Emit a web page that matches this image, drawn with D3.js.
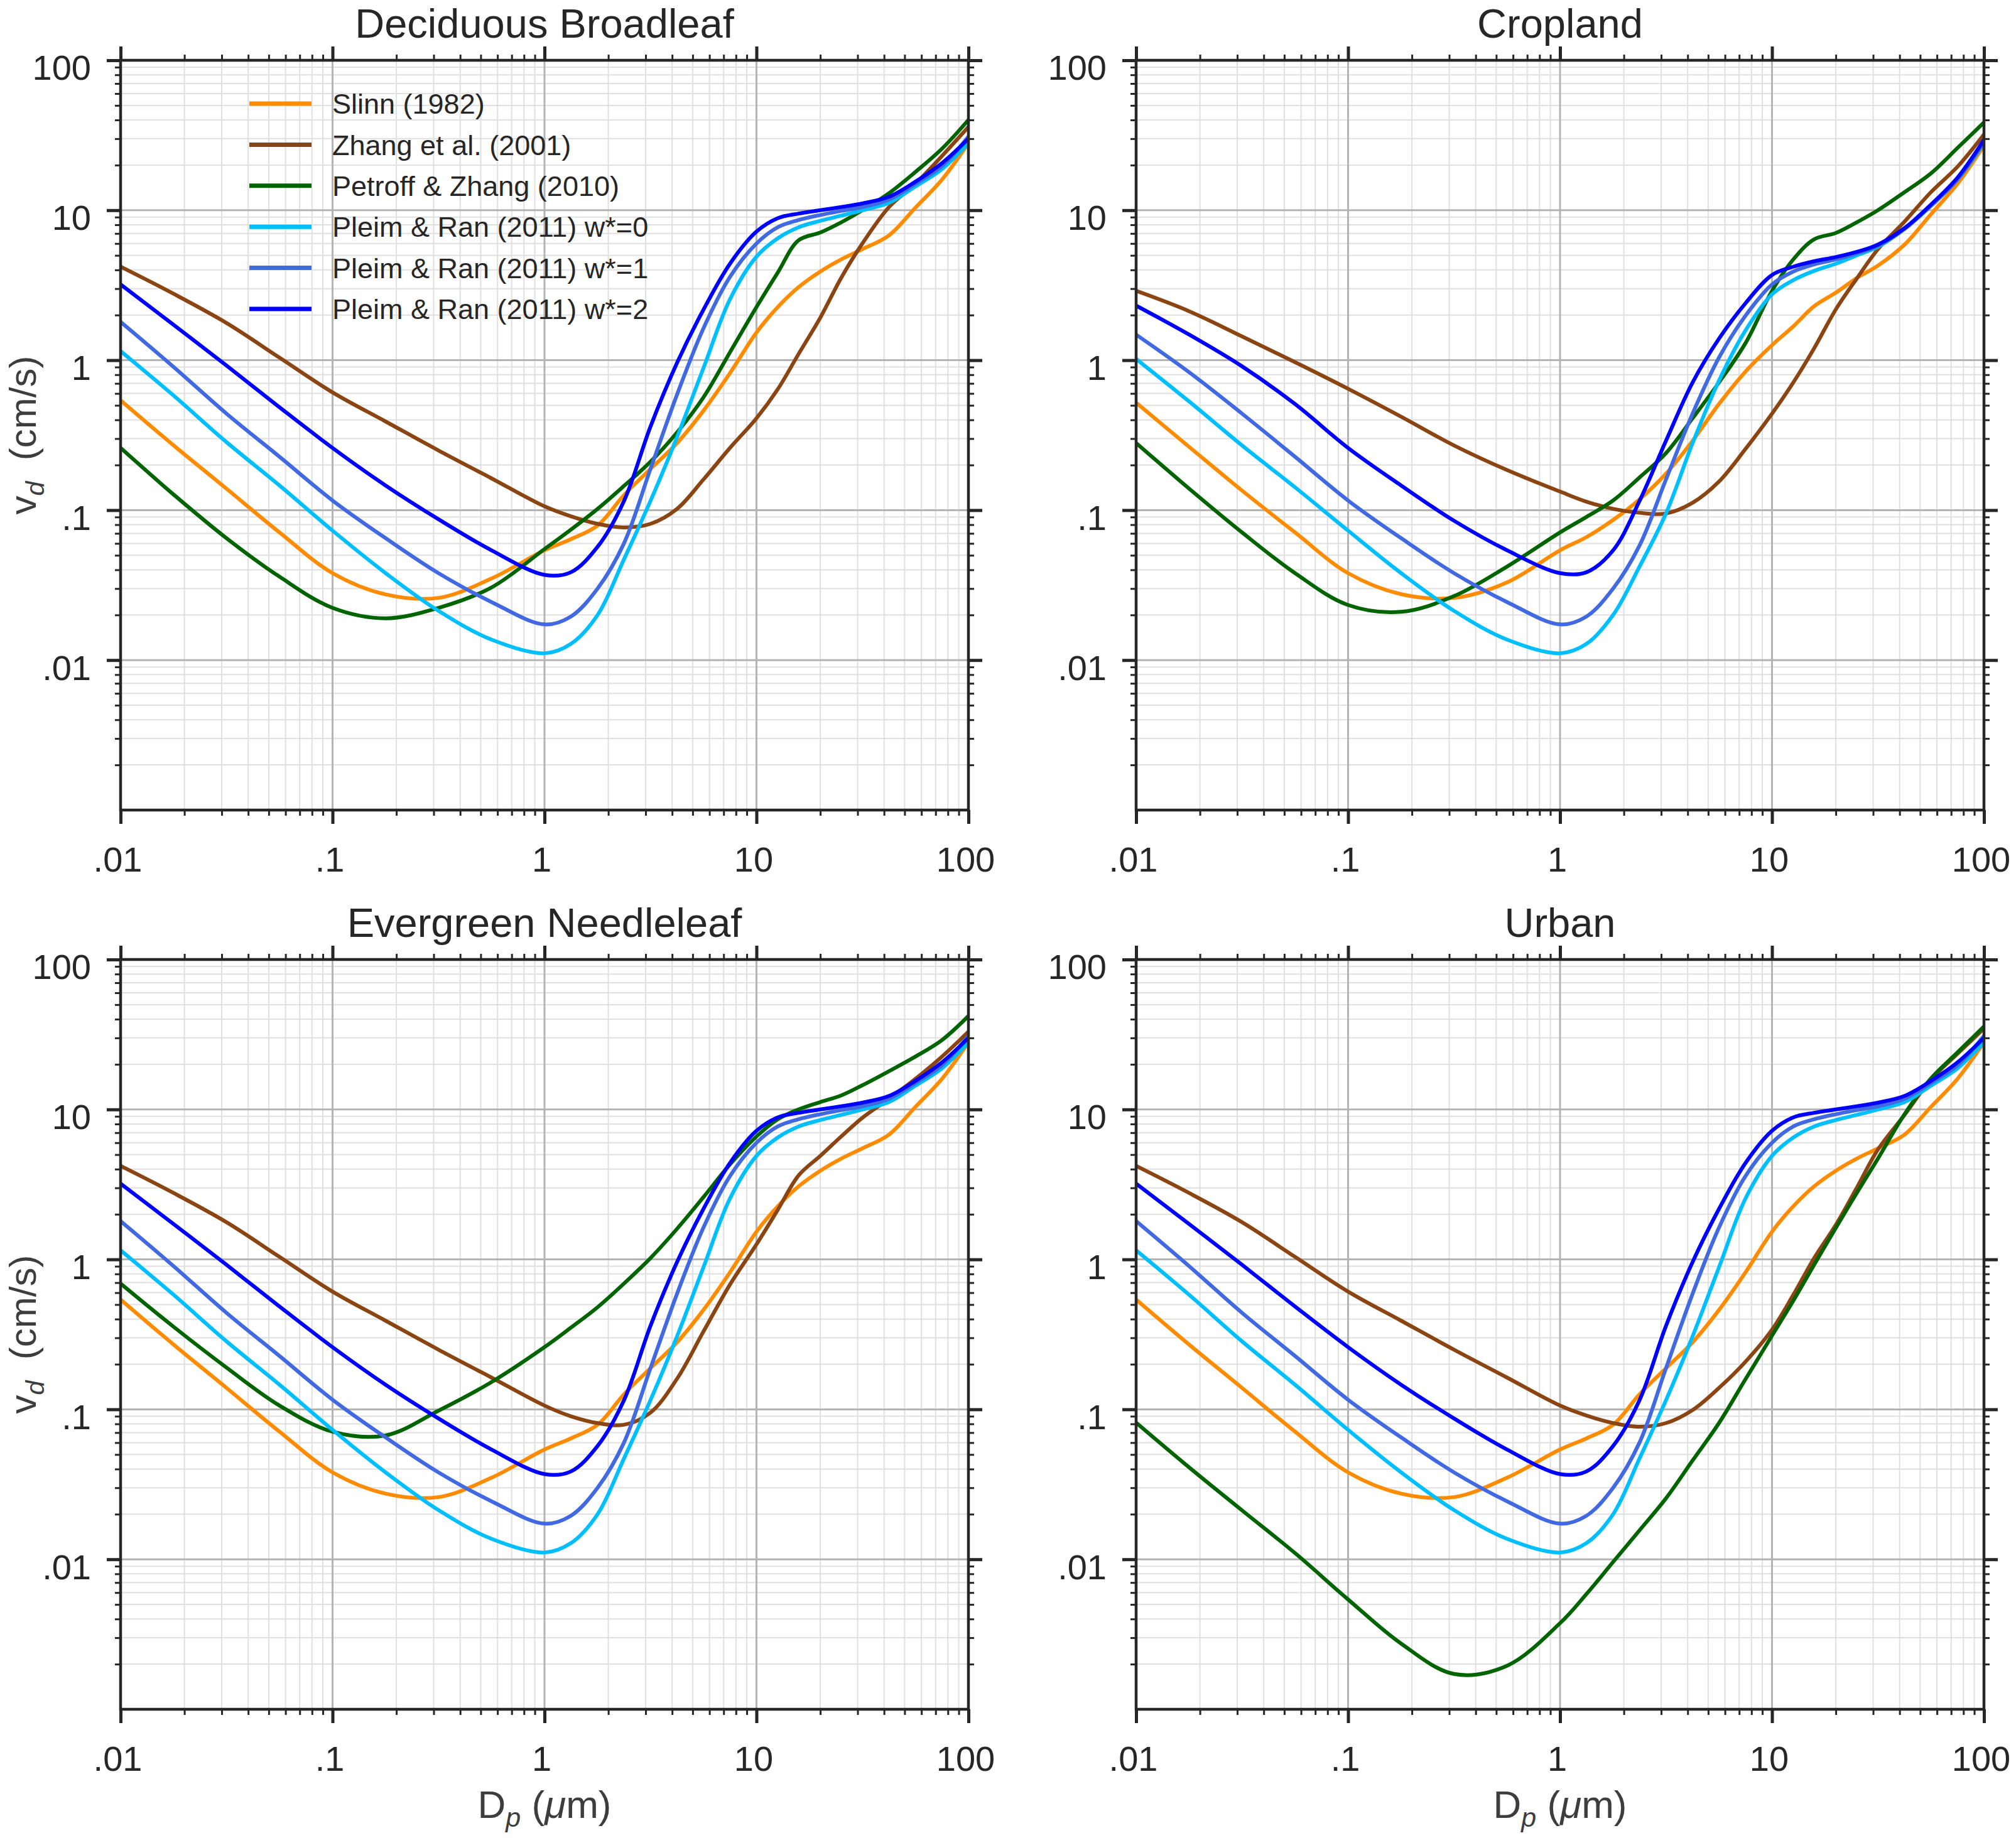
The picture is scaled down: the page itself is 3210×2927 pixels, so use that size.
<!DOCTYPE html>
<html>
<head>
<meta charset="utf-8">
<script src="https://cdn.jsdelivr.net/npm/d3@7"></script>
<style>
  body { margin: 0; background: #fff; }
</style>
</head>
<body>
<div id="chart"></div>
<script>
// particle diameter grid (um), shared by every curve
const dp = [0.01, 0.0178, 0.0316, 0.0562, 0.1, 0.178, 0.316, 0.562, 1, 1.33, 1.78, 2.37, 3.16,
            4.22, 5.62, 7.5, 10, 12.6, 15.8, 20, 25.1, 31.6, 42.2, 56.2, 75, 100];

// deposition velocity (cm/s)
const slinnDB   = [0.54, 0.27, 0.139, 0.071, 0.038, 0.0274, 0.026, 0.035, 0.054, 0.064, 0.079, 0.126, 0.188, 0.28, 0.46, 0.82, 1.53, 2.26, 3.07, 3.9, 4.7, 5.5, 6.8, 10.4, 16, 28];
const zhangDB   = [4.2, 2.77, 1.77, 1.04, 0.61, 0.39, 0.25, 0.163, 0.106, 0.091, 0.081, 0.0767, 0.081, 0.102, 0.16, 0.26, 0.41, 0.64, 1.1, 1.92, 3.54, 6.0, 10.5, 15, 23, 36];
const petroffDB = [0.26, 0.127, 0.065, 0.036, 0.0223, 0.019, 0.0223, 0.0305, 0.055, 0.074, 0.102, 0.145, 0.21, 0.33, 0.565, 1.13, 2.26, 3.84, 6.3, 7.1, 8.3, 10, 13, 18, 25.7, 40];
const pleim0DB  = [1.15, 0.58, 0.284, 0.146, 0.073, 0.038, 0.0213, 0.0137, 0.0111, 0.0128, 0.02, 0.047, 0.115, 0.307, 0.885, 2.55, 4.9, 6.5, 7.7, 8.5, 9.2, 10, 11.2, 14.4, 18.8, 28];
const pleim1DB  = [1.8, 0.9, 0.44, 0.227, 0.116, 0.065, 0.038, 0.0244, 0.0173, 0.0195, 0.03, 0.06, 0.188, 0.59, 1.63, 3.6, 6.0, 7.7, 8.6, 9.3, 9.9, 10.5, 11.8, 15, 19.7, 31];
const pleim2DB  = [3.2, 1.72, 0.92, 0.485, 0.26, 0.146, 0.087, 0.054, 0.037, 0.0385, 0.057, 0.115, 0.36, 0.96, 2.17, 4.4, 7.2, 8.85, 9.5, 10, 10.5, 11.1, 12.3, 15.5, 20.6, 30];

const slinnCR   = [0.52, 0.264, 0.135, 0.071, 0.038, 0.0275, 0.026, 0.033, 0.054, 0.066, 0.086, 0.118, 0.175, 0.29, 0.51, 0.84, 1.26, 1.68, 2.29, 2.82, 3.53, 4.27, 5.9, 9.4, 15, 27];
const zhangCR   = [2.9, 2.12, 1.44, 0.97, 0.645, 0.42, 0.27, 0.185, 0.133, 0.114, 0.102, 0.096, 0.095, 0.112, 0.155, 0.256, 0.44, 0.71, 1.2, 2.18, 3.5, 5.5, 8.4, 13.2, 19.5, 32];
const petroffCR = [0.28, 0.139, 0.071, 0.038, 0.0233, 0.021, 0.0267, 0.042, 0.071, 0.09, 0.116, 0.165, 0.24, 0.41, 0.71, 1.3, 2.9, 4.7, 6.4, 7.05, 8.3, 10, 13.2, 17.6, 26, 38.5];
const pleim0CR  = [1.02, 0.53, 0.27, 0.142, 0.073, 0.038, 0.0213, 0.0137, 0.0111, 0.0128, 0.02, 0.042, 0.095, 0.28, 0.73, 1.58, 2.75, 3.42, 3.94, 4.4, 5.0, 5.7, 7.5, 10.7, 16, 28];
const pleim1CR  = [1.48, 0.83, 0.44, 0.227, 0.116, 0.065, 0.038, 0.0244, 0.0173, 0.0195, 0.03, 0.058, 0.16, 0.44, 1.04, 1.98, 3.2, 3.9, 4.35, 4.7, 5.15, 5.8, 7.5, 10.7, 16, 28.5];
const pleim2CR  = [2.31, 1.48, 0.91, 0.51, 0.26, 0.146, 0.085, 0.054, 0.038, 0.0385, 0.054, 0.115, 0.29, 0.71, 1.39, 2.4, 3.7, 4.2, 4.57, 4.87, 5.27, 5.9, 7.6, 10.9, 16.5, 29.5];

const zhangEN   = [4.2, 2.77, 1.77, 1.04, 0.61, 0.39, 0.25, 0.163, 0.106, 0.09, 0.081, 0.079, 0.095, 0.16, 0.33, 0.68, 1.26, 2.14, 3.63, 4.9, 6.6, 8.8, 11.8, 16, 22.5, 33];
const petroffEN = [0.69, 0.355, 0.19, 0.106, 0.071, 0.067, 0.098, 0.152, 0.26, 0.35, 0.48, 0.69, 1.02, 1.6, 2.6, 4.3, 6.6, 8.6, 10.0, 11.2, 12.4, 14.5, 18, 22.5, 29, 42];

const zhangUR   = [4.2, 2.77, 1.77, 1.04, 0.61, 0.39, 0.25, 0.163, 0.106, 0.091, 0.081, 0.0766, 0.081, 0.099, 0.139, 0.208, 0.34, 0.58, 1.02, 1.7, 3.0, 5.4, 9.2, 15.8, 23.5, 34.7];
const petroffUR = [0.0815, 0.041, 0.0212, 0.011, 0.0054, 0.00274, 0.00172, 0.00195, 0.00375, 0.00585, 0.0096, 0.0156, 0.0255, 0.0456, 0.081, 0.159, 0.31, 0.53, 0.92, 1.62, 2.77, 4.7, 9.3, 16.1, 24, 35.8];

const seriesNames = ["Slinn (1982)", "Zhang et al. (2001)", "Petroff & Zhang (2010)",
                     "Pleim & Ran (2011) w*=0", "Pleim & Ran (2011) w*=1", "Pleim & Ran (2011) w*=2"];
const seriesColors = ["#ff8c00", "#8b4513", "#006400", "#00bfff", "#4169e1", "#0000ff"];

const panelTitles = ["Deciduous Broadleaf", "Cropland", "Evergreen Needleleaf", "Urban"];
const panelSeries = [
    [slinnDB, zhangDB, petroffDB, pleim0DB, pleim1DB, pleim2DB],
    [slinnCR, zhangCR, petroffCR, pleim0CR, pleim1CR, pleim2CR],
    [slinnDB, zhangEN, petroffEN, pleim0DB, pleim1DB, pleim2DB],
    [slinnDB, zhangUR, petroffUR, pleim0DB, pleim1DB, pleim2DB]
];

const xTicks = [0.01, 0.1, 1, 10, 100];
const xTickLabels = [".01", ".1", "1", "10", "100"];
const yTicks = [0.01, 0.1, 1, 10, 100];
const yTickLabels = [".01", ".1", "1", "10", "100"];

const W = 3210, H = 2927;
const pw = 1350, ph = 1194;
const lefts = [192, 1809];
const tops = [96, 1528];
const ink = "#262626";

const x = d3.scaleLog().domain([0.01, 100]).range([0, pw]);
const y = d3.scaleLog().domain([0.001, 100]).range([ph, 0]);

// minor tick / grid positions: 2..9 within each decade
const minorOf = (lo, hi) => {
    const out = [];
    for (let d = lo; d < hi; d *= 10)
        for (let k = 2; k <= 9; k++) out.push(+(k * d).toPrecision(3));
    return out;
};
const xMinor = minorOf(0.01, 100);
const yMinor = minorOf(0.001, 100);
const yMajorGrid = [0.01, 0.1, 1, 10];
const xMajorGrid = [0.1, 1, 10];

const svg = d3.select("#chart").append("svg")
    .attr("width", W)
    .attr("height", H)
    .style("font-family", "'Liberation Sans', Arial, Helvetica, sans-serif");

const line = d3.line()
    .x(d => x(d[0]))
    .y(d => y(d[1]))
    .curve(d3.curveCatmullRom.alpha(0.5));

function styleAxis(sel, major, fontSize) {
    sel.select(".domain").remove();
    sel.selectAll(".tick line")
        .attr("stroke", ink)
        .attr("stroke-width", major ? 5 : 3);
    sel.selectAll(".tick text")
        .attr("fill", ink)
        .attr("font-size", fontSize)
        .attr("font-family", "'Liberation Sans', Arial, Helvetica, sans-serif");
}

panelTitles.forEach((title, i) => {
    const col = i % 2, row = Math.floor(i / 2);
    const g = svg.append("g")
        .attr("transform", `translate(${lefts[col]},${tops[row]})`);

    // grid
    g.append("g").selectAll("line").data(xMinor).join("line")
        .attr("x1", d => x(d)).attr("x2", d => x(d))
        .attr("y1", 0).attr("y2", ph)
        .attr("stroke", "#e0e0e0").attr("stroke-width", 2);
    g.append("g").selectAll("line").data(yMinor).join("line")
        .attr("x1", 0).attr("x2", pw)
        .attr("y1", d => y(d)).attr("y2", d => y(d))
        .attr("stroke", "#e0e0e0").attr("stroke-width", 2);
    g.append("g").selectAll("line").data(xMajorGrid).join("line")
        .attr("x1", d => x(d)).attr("x2", d => x(d))
        .attr("y1", 0).attr("y2", ph)
        .attr("stroke", "#b4b4b4").attr("stroke-width", 3);
    g.append("g").selectAll("line").data(yMajorGrid).join("line")
        .attr("x1", 0).attr("x2", pw)
        .attr("y1", d => y(d)).attr("y2", d => y(d))
        .attr("stroke", "#b4b4b4").attr("stroke-width", 3);

    // curves
    g.append("clipPath").attr("id", "clip" + i)
        .append("rect").attr("width", pw).attr("height", ph);
    const curves = g.append("g").attr("clip-path", `url(#clip${i})`);
    panelSeries[i].forEach((vals, s) => {
        curves.append("path")
            .datum(dp.map((d, k) => [d, vals[k]]))
            .attr("fill", "none")
            .attr("stroke", seriesColors[s])
            .attr("stroke-width", 6)
            .attr("stroke-linejoin", "round")
            .attr("d", line);
    });

    // axes: major + minor ticks on all four sides, pointing outward
    const bMaj = g.append("g").attr("transform", `translate(0,${ph})`)
        .call(d3.axisBottom(x).tickValues(xTicks).tickSize(22).tickPadding(36)
            .tickFormat((d, k) => xTickLabels[k]));
    styleAxis(bMaj, true, 56);
    bMaj.selectAll(".tick text").attr("dx", -5);
    const bMin = g.append("g").attr("transform", `translate(0,${ph})`)
        .call(d3.axisBottom(x).tickValues(xMinor).tickSize(9).tickFormat(""));
    styleAxis(bMin, false, 0);

    const tMaj = g.append("g")
        .call(d3.axisTop(x).tickValues(xTicks).tickSize(22).tickFormat(""));
    styleAxis(tMaj, true, 0);
    const tMin = g.append("g")
        .call(d3.axisTop(x).tickValues(xMinor).tickSize(9).tickFormat(""));
    styleAxis(tMin, false, 0);

    const lMaj = g.append("g")
        .call(d3.axisLeft(y).tickValues(yTicks).tickSize(22).tickPadding(25)
            .tickFormat((d, k) => yTickLabels[k]));
    styleAxis(lMaj, true, 56);
    lMaj.selectAll(".tick text").attr("dy", "0.55em");
    const lMin = g.append("g")
        .call(d3.axisLeft(y).tickValues(yMinor).tickSize(9).tickFormat(""));
    styleAxis(lMin, false, 0);

    const rMaj = g.append("g").attr("transform", `translate(${pw},0)`)
        .call(d3.axisRight(y).tickValues(yTicks).tickSize(22).tickFormat(""));
    styleAxis(rMaj, true, 0);
    const rMin = g.append("g").attr("transform", `translate(${pw},0)`)
        .call(d3.axisRight(y).tickValues(yMinor).tickSize(9).tickFormat(""));
    styleAxis(rMin, false, 0);

    g.append("rect")
        .attr("width", pw).attr("height", ph)
        .attr("fill", "none")
        .attr("stroke", ink)
        .attr("stroke-width", 4.5);

    // title
    g.append("text")
        .attr("x", pw / 2).attr("y", -36)
        .attr("text-anchor", "middle")
        .attr("font-size", 65)
        .attr("fill", ink)
        .text(title);

    // legend only in the first panel
    if (i === 0) {
        const leg = g.append("g");
        seriesNames.forEach((name, s) => {
            const ly = 69 + s * 65.4;
            leg.append("line")
                .attr("x1", 205).attr("x2", 304)
                .attr("y1", ly).attr("y2", ly)
                .attr("stroke", seriesColors[s])
                .attr("stroke-width", 7);
            leg.append("text")
                .attr("x", 337).attr("y", ly)
                .attr("dy", "0.36em")
                .attr("font-size", 45)
                .attr("fill", ink)
                .text(name);
        });
    }

    // axis titles
    if (row === 1) {
        const xl = svg.append("text")
            .attr("x", lefts[col] + pw / 2).attr("y", 2895)
            .attr("text-anchor", "middle")
            .attr("font-size", 62)
            .attr("fill", "#3d3d3d");
        xl.append("tspan").text("D");
        xl.append("tspan").attr("font-size", 43).attr("font-style", "italic").attr("dy", 14).text("p");
        xl.append("tspan").attr("dy", -14).text("\u00a0(");
        xl.append("tspan").attr("font-style", "italic").text("\u03bc");
        xl.append("tspan").text("m)");
    }
    if (col === 0) {
        const yl = svg.append("text")
            .attr("transform", `translate(57,${tops[row] + ph / 2}) rotate(-90)`)
            .attr("text-anchor", "middle")
            .attr("font-size", 60)
            .attr("fill", "#3d3d3d");
        yl.append("tspan").text("v");
        yl.append("tspan").attr("font-size", 41).attr("font-style", "italic").attr("dy", 13).text("d");
        yl.append("tspan").attr("dy", -13).text("\u00a0\u00a0(cm/s)");
    }
});
</script>
</body>
</html>
